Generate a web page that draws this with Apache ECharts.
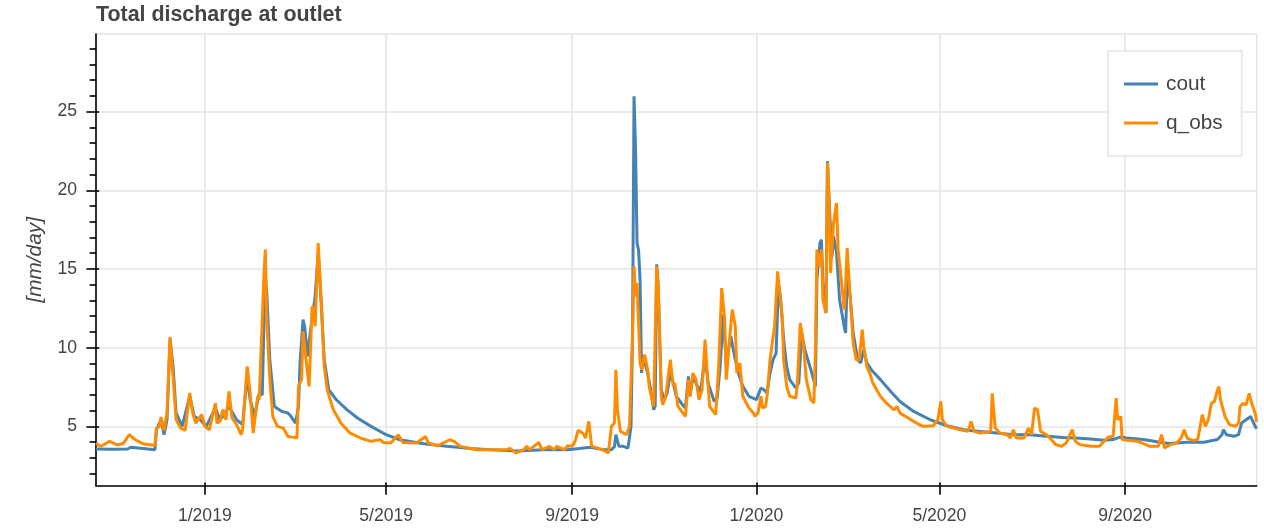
<!DOCTYPE html>
<html>
<head>
<meta charset="utf-8">
<script src="https://cdn.jsdelivr.net/npm/echarts@6/dist/echarts.min.js"></script>
<style>
  html, body { margin: 0; padding: 0; background: #ffffff; }
  #chart { width: 1264px; height: 529px; }
</style>
</head>
<body>
<div id="chart"></div>
<script>
// Daily discharge at the catchment outlet: simulated (cout) and observed (q_obs), mm/day
const seriesNames = ['cout', 'q_obs'];

const coutDates = [
  '2018-10-21','2018-11-01','2018-11-11','2018-11-13','2018-11-21','2018-11-29','2018-11-30','2018-12-03',
  '2018-12-05','2018-12-07','2018-12-09','2018-12-11','2018-12-13','2018-12-17','2018-12-22','2018-12-25',
  '2018-12-29','2019-01-02','2019-01-08','2019-01-11','2019-01-14','2019-01-17','2019-01-22','2019-01-26',
  '2019-01-29','2019-01-31','2019-02-03','2019-02-06','2019-02-08','2019-02-09','2019-02-10','2019-02-11',
  '2019-02-13','2019-02-16','2019-02-21','2019-02-25','2019-02-27','2019-03-02','2019-03-04','2019-03-05',
  '2019-03-07','2019-03-08','2019-03-10','2019-03-12','2019-03-15','2019-03-17','2019-03-19','2019-03-21',
  '2019-03-24','2019-03-29','2019-04-05','2019-04-12','2019-04-21','2019-05-01','2019-05-10','2019-05-26',
  '2019-06-10','2019-06-26','2019-07-09','2019-07-27','2019-08-13','2019-08-29','2019-09-06','2019-09-13',
  '2019-09-22','2019-09-27','2019-09-29','2019-09-30','2019-10-02','2019-10-05','2019-10-08','2019-10-10',
  '2019-10-11','2019-10-12','2019-10-13','2019-10-14','2019-10-15','2019-10-16','2019-10-17','2019-10-18',
  '2019-10-21','2019-10-23','2019-10-25','2019-10-26','2019-10-27','2019-10-28','2019-10-30','2019-11-01',
  '2019-11-03','2019-11-05','2019-11-07','2019-11-09','2019-11-13','2019-11-15','2019-11-17','2019-11-18',
  '2019-11-20','2019-11-23','2019-11-25','2019-11-28','2019-11-30','2019-12-04','2019-12-06','2019-12-08',
  '2019-12-10','2019-12-12','2019-12-15','2019-12-16','2019-12-18','2019-12-20','2019-12-23','2019-12-27',
  '2020-01-01','2020-01-04','2020-01-06','2020-01-08','2020-01-10','2020-01-12','2020-01-14','2020-01-15',
  '2020-01-16','2020-01-17','2020-01-19','2020-01-21','2020-01-23','2020-01-27','2020-01-29','2020-01-31',
  '2020-02-02','2020-02-06','2020-02-09','2020-02-10','2020-02-12','2020-02-13','2020-02-14','2020-02-16',
  '2020-02-17','2020-02-18','2020-02-20','2020-02-21','2020-02-23','2020-02-25','2020-02-28','2020-02-29',
  '2020-03-01','2020-03-03','2020-03-05','2020-03-08','2020-03-10','2020-03-12','2020-03-14','2020-03-17',
  '2020-03-23','2020-03-30','2020-04-05','2020-04-14','2020-04-25','2020-05-06','2020-05-17','2020-05-28',
  '2020-06-08','2020-06-19','2020-06-30','2020-07-11','2020-07-22','2020-08-02','2020-08-07','2020-08-18',
  '2020-08-24','2020-08-29','2020-09-02','2020-09-13','2020-09-24','2020-09-30','2020-10-12','2020-10-23',
  '2020-11-01','2020-11-04','2020-11-05','2020-11-07','2020-11-12','2020-11-15','2020-11-17','2020-11-20',
  '2020-11-23','2020-11-24','2020-11-26','2020-11-27'
];
const coutValues = [
  3.56,3.54,3.56,3.67,3.60,3.52,4.79,5.42,
  4.47,5.42,10.51,8.81,5.85,5.00,6.91,5.64,
  5.42,5.00,6.17,5.42,5.74,6.27,5.42,5.11,
  8.18,6.69,5.64,7.12,7.00,11.00,14.60,13.50,
  9.24,6.27,5.95,5.85,5.64,5.21,6.27,9.03,
  11.78,11.36,9.45,11.14,13.26,16.02,12.84,9.24,
  7.33,6.69,6.06,5.53,5.00,4.47,4.15,3.90,
  3.73,3.60,3.52,3.43,3.52,3.52,3.60,3.67,
  3.52,3.52,3.70,4.47,3.73,3.73,3.62,5.00,
  10.72,25.97,22.60,16.65,16.20,14.30,8.40,9.45,
  8.39,7.33,6.06,6.30,15.30,13.90,7.33,6.69,
  7.12,8.39,7.75,6.91,6.38,6.17,8.18,6.91,
  8.18,7.54,7.22,9.45,7.75,6.59,6.80,8.81,
  12.10,9.03,10.72,10.72,9.24,8.39,7.54,6.91,
  6.70,7.44,7.33,7.12,8.39,9.24,9.66,12.50,
  13.90,13.05,10.51,8.81,7.97,7.44,7.75,10.93,
  9.87,8.60,7.54,14.32,16.65,16.86,14.10,12.20,
  21.85,19.40,15.80,17.08,16.02,13.05,11.36,10.93,
  14.32,13.26,10.93,9.24,9.03,9.87,9.03,8.60,
  7.97,7.20,6.58,5.95,5.42,5.04,4.79,4.68,
  4.58,4.47,4.47,4.37,4.30,4.25,4.22,4.12,
  4.16,4.33,4.26,4.16,3.99,3.91,3.99,3.99,
  4.16,4.47,4.79,4.47,4.37,4.47,5.21,5.42,
  5.63,5.42,5.00,4.85
];

const obsDates = [
  '2018-10-21','2018-10-24','2018-10-26','2018-10-30','2018-11-04','2018-11-08','2018-11-12','2018-11-16',
  '2018-11-21','2018-11-29','2018-11-30','2018-12-02','2018-12-03','2018-12-05','2018-12-07','2018-12-09',
  '2018-12-10','2018-12-11','2018-12-13','2018-12-16','2018-12-19','2018-12-22','2018-12-24','2018-12-26',
  '2018-12-30','2019-01-01','2019-01-04','2019-01-08','2019-01-09','2019-01-11','2019-01-13','2019-01-15',
  '2019-01-17','2019-01-19','2019-01-22','2019-01-25','2019-01-26','2019-01-29','2019-01-31','2019-02-02',
  '2019-02-05','2019-02-06','2019-02-09','2019-02-10','2019-02-11','2019-02-13','2019-02-15','2019-02-18',
  '2019-02-22','2019-02-25','2019-03-01','2019-03-03','2019-03-04','2019-03-06','2019-03-07','2019-03-09',
  '2019-03-11','2019-03-12','2019-03-13','2019-03-14','2019-03-15','2019-03-17','2019-03-19','2019-03-21',
  '2019-03-23','2019-03-25','2019-03-27','2019-04-01','2019-04-03','2019-04-07','2019-04-14','2019-04-21',
  '2019-04-27','2019-04-29','2019-05-04','2019-05-09','2019-05-12','2019-05-21','2019-05-27','2019-05-29',
  '2019-06-04','2019-06-12','2019-06-15','2019-06-19','2019-06-30','2019-07-09','2019-07-20','2019-07-22',
  '2019-07-26','2019-07-31','2019-08-02','2019-08-04','2019-08-10','2019-08-12','2019-08-17','2019-08-20',
  '2019-08-22','2019-08-27','2019-08-29','2019-09-01','2019-09-03','2019-09-05','2019-09-08','2019-09-10',
  '2019-09-12','2019-09-14','2019-09-18','2019-09-22','2019-09-25','2019-09-27','2019-09-29','2019-09-30',
  '2019-10-01','2019-10-03','2019-10-05','2019-10-07','2019-10-09','2019-10-11','2019-10-12','2019-10-13',
  '2019-10-14','2019-10-16','2019-10-17','2019-10-19','2019-10-21','2019-10-22','2019-10-25','2019-10-26',
  '2019-10-27','2019-10-28','2019-10-30','2019-10-31','2019-11-02','2019-11-05','2019-11-07','2019-11-08',
  '2019-11-10','2019-11-15','2019-11-17','2019-11-18','2019-11-20','2019-11-22','2019-11-24','2019-11-26',
  '2019-11-28','2019-11-29','2019-12-01','2019-12-05','2019-12-07','2019-12-09','2019-12-11','2019-12-12',
  '2019-12-14','2019-12-16','2019-12-18','2019-12-19','2019-12-21','2019-12-23','2019-12-27','2019-12-30',
  '2019-12-31','2020-01-02','2020-01-04','2020-01-05','2020-01-07','2020-01-08','2020-01-10','2020-01-11',
  '2020-01-12','2020-01-13','2020-01-15','2020-01-16','2020-01-18','2020-01-19','2020-01-21','2020-01-23',
  '2020-01-27','2020-01-28','2020-01-30','2020-02-01','2020-02-03','2020-02-06','2020-02-08','2020-02-09',
  '2020-02-10','2020-02-12','2020-02-13','2020-02-14','2020-02-16','2020-02-17','2020-02-18','2020-02-19',
  '2020-02-21','2020-02-23','2020-02-24','2020-02-25','2020-02-27','2020-02-28','2020-02-29','2020-03-01',
  '2020-03-02','2020-03-04','2020-03-05','2020-03-07','2020-03-09','2020-03-11','2020-03-12','2020-03-14',
  '2020-03-16','2020-03-18','2020-03-23','2020-03-27','2020-04-01','2020-04-03','2020-04-05','2020-04-14',
  '2020-04-20','2020-04-27','2020-04-30','2020-05-02','2020-05-03','2020-05-06','2020-05-15','2020-05-20',
  '2020-05-22','2020-05-24','2020-05-28','2020-06-04','2020-06-05','2020-06-07','2020-06-10','2020-06-15',
  '2020-06-17','2020-06-19','2020-06-21','2020-06-26','2020-06-29','2020-07-01','2020-07-03','2020-07-05',
  '2020-07-07','2020-07-11','2020-07-14','2020-07-17','2020-07-21','2020-07-24','2020-07-27','2020-07-28',
  '2020-07-30','2020-08-02','2020-08-09','2020-08-15','2020-08-18','2020-08-21','2020-08-24','2020-08-26',
  '2020-08-27','2020-08-29','2020-08-30','2020-09-02','2020-09-09','2020-09-13','2020-09-17','2020-09-23',
  '2020-09-25','2020-09-27','2020-10-01','2020-10-05','2020-10-08','2020-10-10','2020-10-12','2020-10-16',
  '2020-10-19','2020-10-22','2020-10-24','2020-10-26','2020-10-28','2020-10-30','2020-11-01','2020-11-02',
  '2020-11-03','2020-11-06','2020-11-09','2020-11-13','2020-11-15','2020-11-16','2020-11-18','2020-11-20',
  '2020-11-22','2020-11-24','2020-11-26','2020-11-27'
];
const obsValues = [
  3.94,3.73,3.83,4.05,3.83,3.90,4.47,4.15,
  3.90,3.79,4.89,5.00,5.59,4.75,5.85,10.68,
  10.61,8.18,5.42,4.89,4.75,7.12,5.85,5.21,
  5.74,5.00,4.79,6.48,5.21,5.32,6.06,5.42,
  7.22,5.53,5.11,4.47,4.79,8.81,7.12,4.58,
  6.91,6.69,14.32,16.23,11.78,7.97,5.64,5.00,
  4.89,4.36,4.30,4.26,7.54,7.97,11.04,9.24,
  7.54,7.44,12.63,12.42,11.36,16.65,13.05,8.81,
  7.33,6.69,6.06,5.21,5.00,4.58,4.26,4.05,
  4.15,3.98,3.94,4.47,3.98,3.94,4.36,3.94,
  3.77,4.15,4.05,3.73,3.52,3.52,3.52,3.60,
  3.31,3.52,3.73,3.52,3.98,3.52,3.73,3.52,
  3.73,3.52,3.77,3.73,4.05,4.75,4.58,4.26,
  5.32,3.73,3.62,3.47,3.31,5.00,5.21,8.60,
  6.06,4.68,4.58,4.47,5.00,10.72,15.17,13.26,
  14.11,9.03,8.60,9.56,8.60,7.54,6.27,6.27,
  15.17,13.90,6.91,6.38,6.91,9.24,7.54,7.75,
  6.27,5.64,7.97,6.91,8.39,7.97,6.69,7.33,
  10.51,9.03,6.27,5.74,8.81,13.79,11.78,7.97,
  10.30,12.42,11.36,8.39,9.03,6.91,6.17,5.85,
  5.64,5.85,6.91,6.17,6.27,6.91,9.24,9.98,
  10.08,11.36,14.85,14.75,11.99,9.24,7.54,6.91,
  6.80,7.54,11.57,10.30,7.97,6.69,6.48,9.66,
  16.23,15.17,16.23,13.05,12.20,21.74,19.62,14.75,
  17.92,19.19,16.23,15.38,13.47,12.42,13.90,16.33,
  14.75,11.78,10.30,9.24,9.24,11.14,10.08,8.81,
  8.39,7.75,6.91,6.47,6.05,6.26,5.84,5.32,
  5.00,5.04,5.42,6.58,5.42,5.00,4.79,4.68,
  5.32,4.68,4.58,4.68,7.10,4.89,4.58,4.47,
  4.26,4.79,4.26,4.26,4.89,4.47,6.16,6.05,
  4.68,4.47,4.16,3.84,3.74,3.95,4.58,4.79,
  4.05,3.84,3.74,3.74,4.05,4.33,4.37,6.79,
  5.42,5.63,4.16,4.12,4.05,3.91,3.74,3.74,
  4.47,3.63,3.84,3.95,4.26,4.79,4.26,4.10,
  4.16,5.74,5.00,5.42,6.47,6.58,7.31,7.52,
  6.68,5.63,5.11,5.00,5.21,6.26,6.47,6.37,
  7.10,6.37,5.84,5.30
];

// Axis extents and tick marks
const xStart = '2018-10-21';
const xEnd = '2020-11-27';
const xTickDates = ['2019-01-01','2019-05-01','2019-09-01','2020-01-01','2020-05-01','2020-09-01'];
const yMin = 1.23;
const yMax = 29.93;
const yMajorTicks = [5, 10, 15, 20, 25];
const yMinorTicks = [];
for (let v = 2; v < yMax; v++) {
  if (v % 5 !== 0) yMinorTicks.push(v);
}

const FONT = '"Liberation Sans", Arial, Helvetica, sans-serif';
const TEXT_COLOR = '#444444';
const GRID_COLOR = '#e5e5e5';
const COLORS = { cout: '#4682b4', q_obs: '#ff8c00' };

function toTime(s) {
  const p = s.split('-').map(Number);
  return new Date(p[0], p[1] - 1, p[2]).getTime();
}
function pairs(dates, values) {
  return dates.map((d, i) => [toTime(d), values[i]]);
}
function monthYear(v) {
  const d = new Date(v);
  return (d.getMonth() + 1) + '/' + d.getFullYear();
}

const xMin = toTime(xStart);
const xMax = toTime(xEnd);
const xTicks = xTickDates.map(toTime);
const axisStroke = { color: '#000000', width: 1.6 };

const chart = echarts.init(document.getElementById('chart'), null, { renderer: 'canvas' });

chart.setOption({
  animation: false,
  backgroundColor: '#ffffff',
  title: {
    text: 'Total discharge at outlet',
    left: 96,
    top: 5,
    padding: 0,
    textStyle: { fontFamily: FONT, fontSize: 21.4, fontWeight: 'bold', color: TEXT_COLOR }
  },
  legend: {
    data: seriesNames,
    orient: 'vertical',
    left: 1108,
    top: 51,
    padding: [22, 19, 22, 16],
    itemGap: 17,
    itemWidth: 34,
    itemHeight: 3,
    icon: 'rect',
    backgroundColor: 'rgba(255,255,255,0.95)',
    borderColor: GRID_COLOR,
    borderWidth: 1.6,
    textStyle: { fontFamily: FONT, fontSize: 20.8, color: TEXT_COLOR, lineHeight: 22, padding: [0, 0, 0, 3] }
  },
  grid: {
    left: 96,
    right: 7.3,
    top: 34,
    bottom: 43.3,
    show: true,
    borderColor: GRID_COLOR,
    borderWidth: 1.6,
    containLabel: false,
    outerBoundsMode: 'none'
  },
  // Time runs on a numeric (millisecond) axis so the month ticks can be placed exactly
  xAxis: [
    {
      type: 'value',
      min: xMin,
      max: xMax,
      position: 'bottom',
      axisLine: { show: true, onZero: false, lineStyle: axisStroke },
      axisTick: { show: true, customValues: xTicks, length: 9, lineStyle: axisStroke },
      axisLabel: {
        customValues: xTicks,
        formatter: monthYear,
        color: TEXT_COLOR,
        fontFamily: FONT,
        fontSize: 17.6,
        margin: 21
      },
      splitLine: { show: true, lineStyle: { color: GRID_COLOR, width: 1.6 } }
    },
    {
      type: 'value',
      min: xMin,
      max: xMax,
      position: 'bottom',
      axisLine: { show: false, onZero: false },
      axisTick: { show: true, inside: true, customValues: xTicks, length: 3.2, lineStyle: axisStroke },
      axisLabel: { show: false },
      splitLine: { show: false }
    }
  ],
  yAxis: [
    {
      type: 'value',
      min: yMin,
      max: yMax,
      position: 'left',
      name: '[mm/day]',
      nameLocation: 'middle',
      nameRotate: 90,
      nameGap: 50,
      nameTextStyle: { fontFamily: FONT, fontSize: 20.8, fontStyle: 'italic', color: TEXT_COLOR },
      axisLine: { show: true, onZero: false, lineStyle: axisStroke },
      axisTick: { show: true, customValues: yMajorTicks, length: 9.6, lineStyle: axisStroke },
      axisLabel: {
        customValues: yMajorTicks,
        color: TEXT_COLOR,
        fontFamily: FONT,
        fontSize: 17.6,
        margin: 19
      },
      splitLine: { show: true, lineStyle: { color: GRID_COLOR, width: 1.6 } }
    },
    {
      type: 'value',
      min: yMin,
      max: yMax,
      position: 'left',
      axisLine: { show: false, onZero: false },
      axisTick: { show: true, customValues: yMinorTicks, length: 6.4, lineStyle: axisStroke },
      axisLabel: { show: false },
      splitLine: { show: false }
    },
    {
      type: 'value',
      min: yMin,
      max: yMax,
      position: 'left',
      axisLine: { show: false, onZero: false },
      axisTick: { show: true, inside: true, customValues: yMajorTicks, length: 3.2, lineStyle: axisStroke },
      axisLabel: { show: false },
      splitLine: { show: false }
    }
  ],
  series: [
    {
      name: 'cout',
      type: 'line',
      xAxisIndex: 0,
      yAxisIndex: 0,
      data: pairs(coutDates, coutValues),
      showSymbol: false,
      symbol: 'none',
      color: COLORS.cout,
      lineStyle: { color: COLORS.cout, width: 3, join: 'bevel' },
      z: 2
    },
    {
      name: 'q_obs',
      type: 'line',
      xAxisIndex: 0,
      yAxisIndex: 0,
      data: pairs(obsDates, obsValues),
      showSymbol: false,
      symbol: 'none',
      color: COLORS.q_obs,
      lineStyle: { color: COLORS.q_obs, width: 3, join: 'bevel' },
      z: 3
    }
  ]
});
</script>
</body>
</html>
